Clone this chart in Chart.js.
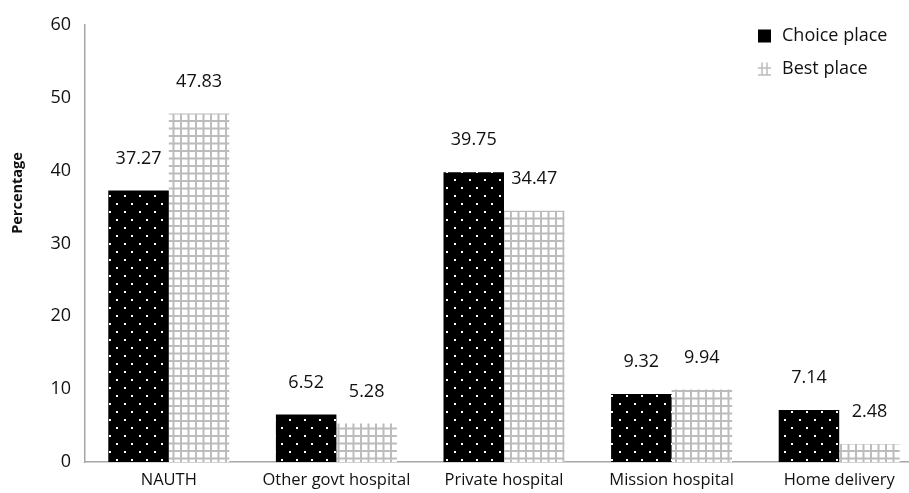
<!DOCTYPE html>
<html>
<head>
<meta charset="utf-8">
<script src="https://cdn.jsdelivr.net/npm/chart.js@4"></script>
<style>
  html, body { margin: 0; padding: 0; background: #fff; overflow: hidden; }
  #wrap { width: 923px; height: 493px; }
</style>
</head>
<body>
<div id="wrap"><canvas id="c" width="923" height="493"></canvas></div>
<script>
// Place of delivery: where women chose to deliver vs. where they think is best
const categories = ['NAUTH', 'Other govt hospital', 'Private hospital', 'Mission hospital', 'Home delivery'];
const choicePlace = [37.27, 6.52, 39.75, 9.32, 7.14];
const bestPlace = [47.83, 5.28, 34.47, 9.94, 2.48];
const yTicks = [0, 10, 20, 30, 40, 50, 60];
const seriesNames = ['Choice place', 'Best place'];
const yTitle = 'Percentage';

const FONT = '"Open Sans", "Liberation Sans", sans-serif';
const TEXT = '#111';
const AXIS = '#a6a6a6';
const GRIDLINE = '#bcbcbc';

const canvas = document.getElementById('c');
const ctx = canvas.getContext('2d');

// Black fill with staggered white dots
function dotPattern() {
  const t = document.createElement('canvas');
  t.width = 15; t.height = 16;
  const g = t.getContext('2d');
  g.fillStyle = '#000';
  g.fillRect(0, 0, 15, 16);
  g.fillStyle = '#fff';
  g.fillRect(4, 3, 2, 2);
  g.fillRect(11, 11, 2, 2);
  return ctx.createPattern(t, 'repeat');
}

// White fill with a light grey square grid
function gridPattern() {
  const t = document.createElement('canvas');
  t.width = 15; t.height = 15;
  const g = t.getContext('2d');
  g.fillStyle = '#fff';
  g.fillRect(0, 0, 15, 15);
  g.fillStyle = GRIDLINE;
  g.fillRect(0, 0, 2, 15);
  g.fillRect(7.5, 0, 2, 15);
  g.fillRect(0, 0, 15, 2);
  g.fillRect(0, 7.5, 15, 2);
  return ctx.createPattern(t, 'repeat');
}

// Values written above each bar
const valueLabels = {
  id: 'valueLabels',
  afterDatasetsDraw(chart) {
    const c = chart.ctx;
    c.save();
    c.font = '18px ' + FONT;
    c.fillStyle = TEXT;
    c.textAlign = 'center';
    c.textBaseline = 'middle';
    chart.data.datasets.forEach((ds, i) => {
      chart.getDatasetMeta(i).data.forEach((bar, j) => {
        c.fillText(ds.data[j].toFixed(2), bar.x, bar.y - 32);
      });
    });
    c.restore();
  }
};

// Rotated y-axis title
const axisTitle = {
  id: 'axisTitle',
  afterDraw(chart) {
    const c = chart.ctx;
    c.save();
    c.translate(18, 193);
    c.rotate(-Math.PI / 2);
    c.font = 'bold 14.5px ' + FONT;
    c.fillStyle = TEXT;
    c.textAlign = 'center';
    c.textBaseline = 'middle';
    c.fillText(yTitle, 0, 0);
    c.restore();
  }
};

// Legend in the top-right corner of the plot
const cornerLegend = {
  id: 'cornerLegend',
  afterDraw(chart) {
    const c = chart.ctx;
    const x = 758, y0 = 36, step = 33, box = 13;
    c.save();
    c.font = '18px ' + FONT;
    c.textBaseline = 'middle';
    c.textAlign = 'left';
    seriesNames.forEach((name, i) => {
      const y = y0 + i * step;
      if (i === 0) {
        c.fillStyle = '#000';
        c.fillRect(x, y - box / 2, box, box);
      } else {
        c.strokeStyle = GRIDLINE;
        c.lineWidth = 1.5;
        c.beginPath();
        c.moveTo(x + 4, y - box / 2); c.lineTo(x + 4, y + box / 2);
        c.moveTo(x + 9, y - box / 2); c.lineTo(x + 9, y + box / 2);
        c.moveTo(x, y - 1); c.lineTo(x + box, y - 1);
        c.moveTo(x, y + box / 2 - 0.5); c.lineTo(x + box, y + box / 2 - 0.5);
        c.stroke();
      }
      c.fillStyle = TEXT;
      c.fillText(name, x + 24, y);
    });
    c.restore();
  }
};

new Chart(canvas, {
  type: 'bar',
  data: {
    labels: categories,
    datasets: [
      { label: seriesNames[0], data: choicePlace, backgroundColor: dotPattern(), borderWidth: 0 },
      { label: seriesNames[1], data: bestPlace, backgroundColor: gridPattern(), borderWidth: 0 }
    ]
  },
  options: {
    responsive: false,
    animation: false,
    devicePixelRatio: 1,
    layout: { padding: { top: 23, right: 0, bottom: 0, left: 0 } },
    datasets: { bar: { categoryPercentage: 0.722, barPercentage: 1.0 } },
    plugins: { legend: { display: false }, tooltip: { enabled: false } },
    scales: {
      x: {
        grid: { display: false, drawTicks: false },
        border: { color: AXIS, width: 1.5 },
        ticks: { color: TEXT, font: { family: FONT, size: 16.5 }, padding: 8, maxRotation: 0, autoSkip: false },
        afterFit: s => { s.height = 31; }
      },
      y: {
        min: 0, max: 60,
        grid: { display: false, drawTicks: false },
        border: { color: AXIS, width: 1.5 },
        ticks: { color: TEXT, font: { family: FONT, size: 18 }, padding: 14 },
        afterBuildTicks: s => { s.ticks = yTicks.map(v => ({ value: v })); },
        afterFit: s => { s.width = 85; }
      }
    }
  },
  plugins: [valueLabels, axisTitle, cornerLegend]
});
</script>
</body>
</html>
